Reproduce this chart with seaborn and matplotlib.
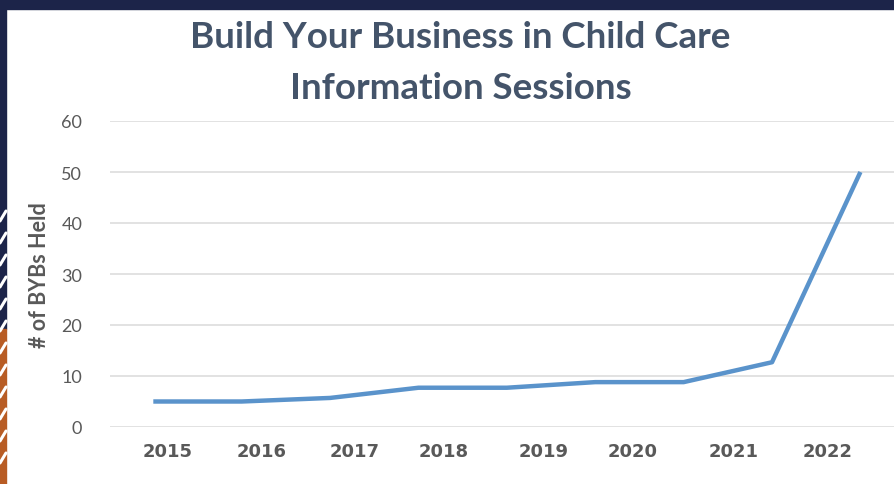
import numpy as np
import pandas as pd
import matplotlib.pyplot as plt
import matplotlib.patches as mpatches
import seaborn as sns

# Sessions held (one point per period)
sessions = [5, 5, 5.7, 7.7, 7.7, 8.8, 8.8, 12.7, 50]
year_labels = ['2015', '2016', '2017', '2018', '2019', '2020', '2021', '2022']

df = pd.DataFrame({'step': np.arange(len(sessions)), 'sessions': sessions})

# where the year labels sit along the x axis (in point-index units)
label_at = [0.16, 1.23, 2.28, 3.29, 4.42, 5.42, 6.56, 7.63]

sns.set_style('white')
plt.rcParams['font.family'] = ['Lato', 'DejaVu Sans']

fig = plt.figure(figsize=(8.94, 4.85), dpi=100)
ax = fig.add_axes([110 / 894, 1 - 428 / 485, 1 - 110 / 894, (428 - 122) / 485])

sns.lineplot(data=df, x='step', y='sessions', ax=ax, color='#5a93cb',
             linewidth=3.2, solid_joinstyle='round', solid_capstyle='butt')

ax.set_xlim(-0.49, 8.38)
ax.set_ylim(0, 60)
ax.set_yticks(range(0, 61, 10))
ax.set_xticks(label_at)
ax.set_xticklabels(year_labels, fontsize=13, fontweight='bold', color='#595959',
                   family=['DejaVu Sans'])
ax.tick_params(axis='y', labelsize=13, labelcolor='#595959', length=0, pad=20)
ax.tick_params(axis='x', length=0, pad=11)
ax.grid(axis='y', color='#dddddd', linewidth=1.2)
ax.set_axisbelow(True)
for s in ax.spines.values():
    s.set_visible(False)
ax.set_xlabel('')
ax.set_ylabel('# of BYBs Held', fontsize=15.5, fontweight='bold', color='#595959', labelpad=8)

fig.text(0.515, 0.922, 'Build Your Business in Child Care', ha='center', va='center',
         fontsize=26.5, fontweight='bold', color='#44546a')
fig.text(0.515, 0.818, 'Information Sessions', ha='center', va='center',
         fontsize=26.5, fontweight='bold', color='#44546a')

# frame decoration: navy top bar and left strip, orange lower strip with white chevrons
navy = '#1c2449'
orange = '#b85c24'
W, H = 894, 485
def px(x, y, w, h, c):
    fig.patches.append(mpatches.Rectangle((x / W, 1 - (y + h) / H), w / W, h / H,
                                          transform=fig.transFigure, color=c, zorder=5))
px(0, 0, W, 10, navy)
px(0, 0, 6, 330, navy)
px(0, 330, 6, 155, orange)
for yy in range(212, 470, 22):
    fig.lines.append(plt.Line2D([0, 6 / W], [1 - (yy + 10) / H, 1 - yy / H],
                                transform=fig.transFigure, color='white', lw=2.2, zorder=6))

fig.savefig('out.png', dpi=100, facecolor='white')
